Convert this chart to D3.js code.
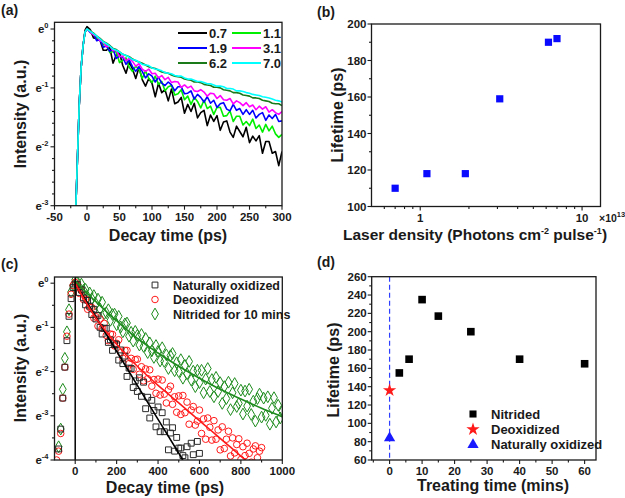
<!DOCTYPE html>
<html><head><meta charset="utf-8">
<script src="https://cdn.jsdelivr.net/npm/d3@7"></script>
<style>body{margin:0;background:#fff}svg{display:block}text{font-family:'Liberation Sans',Arial,sans-serif;font-weight:bold;fill:#1a1a1a}</style>
</head><body>
<svg id="c" width="625" height="498"></svg>
<script>
// ---------- DATA ----------
// (a) decay traces, y values are ln(Intensity)
const tA = [-18,-15,-12,-9,-6,-3,0,5,10,15,20,25,30,35,40,45,50,55,60,65,70,75,80,85,90,95,100,105,110,115,120,125,130,135,140,145,150,155,160,165,170,175,180,185,190,195,200,205,210,215,220,225,230,235,240,245,250,255,260,265,270,275,280,285,290,295,300];
const seriesA = ["0.7","1.1","1.9","3.1","6.2","7.0"];
const colorsA = ["#000000","#00ee00","#0000ff","#ff00ff","#1a7a1a","#00ffff"];
const a07 = [-3.3,-2.3,-1.3,-0.65,-0.28,-0.02,0.04,-0.01,-0.15,-0.16,-0.19,-0.36,-0.36,-0.31,-0.58,-0.44,-0.40,-0.62,-0.75,-0.56,-0.68,-0.84,-0.65,-0.86,-0.97,-0.84,-0.92,-1.15,-0.92,-1.08,-1.03,-1.22,-1.02,-1.27,-1.24,-1.16,-1.43,-1.28,-1.40,-1.26,-1.51,-1.42,-1.38,-1.64,-1.46,-1.57,-1.47,-1.72,-1.58,-1.56,-1.75,-1.84,-1.65,-1.74,-1.83,-1.67,-1.93,-1.82,-1.90,-1.81,-2.11,-1.91,-1.91,-2.11,-2.08,-2.32,-2.08];
const a11 = [-3.3,-2.3,-1.3,-0.65,-0.28,-0.05,0.0,-0.05,-0.08,-0.16,-0.17,-0.27,-0.26,-0.40,-0.38,-0.39,-0.57,-0.53,-0.49,-0.65,-0.72,-0.63,-0.68,-0.84,-0.71,-0.84,-0.91,-0.80,-0.94,-0.89,-1.05,-0.98,-0.96,-1.12,-1.10,-1.03,-1.20,-1.14,-1.28,-1.16,-1.23,-1.34,-1.21,-1.35,-1.31,-1.45,-1.33,-1.33,-1.48,-1.47,-1.39,-1.57,-1.48,-1.48,-1.63,-1.57,-1.64,-1.53,-1.69,-1.63,-1.75,-1.62,-1.73,-1.65,-1.78,-1.84,-1.79];
const a19 = [-3.3,-2.3,-1.3,-0.65,-0.28,-0.05,0.0,-0.06,-0.08,-0.20,-0.18,-0.31,-0.29,-0.38,-0.34,-0.50,-0.46,-0.48,-0.60,-0.53,-0.64,-0.72,-0.64,-0.72,-0.83,-0.76,-0.80,-0.90,-0.82,-0.92,-0.96,-0.90,-0.95,-1.05,-0.98,-0.98,-1.10,-1.09,-1.05,-1.19,-1.11,-1.16,-1.24,-1.15,-1.26,-1.21,-1.33,-1.27,-1.25,-1.36,-1.39,-1.28,-1.38,-1.35,-1.45,-1.37,-1.45,-1.38,-1.51,-1.45,-1.42,-1.55,-1.46,-1.52,-1.45,-1.57,-1.56];
const a31 = [-3.3,-2.3,-1.3,-0.65,-0.28,-0.05,0.0,-0.05,-0.10,-0.12,-0.20,-0.22,-0.30,-0.28,-0.37,-0.36,-0.47,-0.46,-0.54,-0.50,-0.55,-0.63,-0.59,-0.68,-0.72,-0.68,-0.76,-0.75,-0.83,-0.79,-0.86,-0.82,-0.91,-0.89,-0.90,-0.99,-0.95,-1.00,-0.97,-1.05,-1.06,-1.03,-1.07,-1.14,-1.09,-1.10,-1.18,-1.13,-1.20,-1.21,-1.18,-1.27,-1.22,-1.25,-1.30,-1.25,-1.32,-1.29,-1.37,-1.31,-1.36,-1.32,-1.41,-1.37,-1.42,-1.45,-1.40];
const a62 = [-3.3,-2.3,-1.3,-0.65,-0.28,-0.05,0.0,-0.03,-0.07,-0.12,-0.16,-0.21,-0.24,-0.28,-0.33,-0.35,-0.39,-0.43,-0.45,-0.47,-0.51,-0.54,-0.56,-0.58,-0.61,-0.64,-0.66,-0.67,-0.70,-0.73,-0.74,-0.75,-0.78,-0.80,-0.81,-0.82,-0.85,-0.86,-0.87,-0.90,-0.90,-0.91,-0.94,-0.95,-0.96,-0.99,-0.99,-1.00,-1.03,-1.04,-1.05,-1.08,-1.08,-1.09,-1.12,-1.13,-1.14,-1.17,-1.17,-1.18,-1.21,-1.22,-1.23,-1.26,-1.27,-1.27,-1.30];
const a70 = [-3.3,-2.3,-1.3,-0.65,-0.28,-0.05,0.0,-0.04,-0.08,-0.12,-0.17,-0.22,-0.25,-0.29,-0.34,-0.36,-0.39,-0.43,-0.45,-0.48,-0.52,-0.53,-0.56,-0.60,-0.61,-0.62,-0.66,-0.68,-0.69,-0.71,-0.74,-0.75,-0.76,-0.79,-0.80,-0.80,-0.83,-0.85,-0.85,-0.87,-0.89,-0.89,-0.91,-0.93,-0.93,-0.95,-0.97,-0.97,-0.98,-1.01,-1.01,-1.02,-1.05,-1.05,-1.06,-1.08,-1.09,-1.11,-1.12,-1.13,-1.15,-1.16,-1.17,-1.19,-1.21,-1.22,-1.24];
const valuesA = [a07,a11,a19,a31,a62,a70];
const xTicksA = [-50,0,50,100,150,200,250,300];
const yTicksA = [0,-1,-2,-3];

// (b) lifetime vs laser density (x 1e13)
const densB = [0.7,1.1,1.9,3.1,6.2,7.0];
const lifeB = [110,118,118,159,190,192];
const yTicksB = [100,120,140,160,180,200];
const xTicksB = [1,10];

// (c) decay curves, ln(Intensity), time step 10 ps from -90 to 1000
const tC = d3.range(-90,1001,10);
const cNat = [-4.2,-3.75,-3.3,-2.6,-1.9,-1.3,-0.75,-0.35,-0.1,-0.02,
  -0.03,-0.21,-0.15,-0.33,-0.49,-0.39,-0.52,-0.71,-0.59,-0.81,
  -0.73,-1.00,-1.15,-1.02,-1.02,-1.34,-1.28,-1.52,-1.37,-1.39,
  -1.74,-1.51,-1.82,-1.65,-2.11,-1.92,-1.93,-2.36,-2.21,-2.45,
  -2.14,-2.56,-2.24,-2.84,-2.58,-3.05,-2.65,-2.88,-3.25,-2.80,
  -3.36,-2.93,-3.36,-3.14,-3.77,-3.39,-3.27,-3.80,-3.49,-3.73,-3.73,-3.90,
  -3.95,-3.70,-4.10,-3.62,-3.88,-4.20,-3.58,-3.85];
const cDeox = [-4.0,-3.8,-3.4,-2.6,-1.9,-1.2,-0.7,-0.25,-0.05,0.02,
  -0.04,-0.23,-0.17,-0.37,-0.36,-0.59,-0.55,-0.55,-0.79,-0.76,
  -0.97,-0.81,-1.02,-0.91,-1.18,-1.30,-1.15,-1.16,-1.42,-1.36,
  -1.28,-1.57,-1.70,-1.52,-1.52,-1.82,-1.70,-1.95,-1.73,-1.72,
  -2.06,-1.89,-2.21,-1.94,-2.16,-1.96,-2.33,-2.18,-2.49,-2.17,
  -2.53,-2.19,-2.51,-2.71,-2.41,-2.33,-2.74,-2.57,-2.92,-2.55,
  -2.97,-2.54,-2.93,-2.69,-3.19,-2.87,-2.79,-3.21,-3.12,-2.87,
  -3.40,-3.07,-3.53,-3.05,-3.26,-3.55,-3.11,-3.53,-3.32,-3.77,
  -3.25,-3.74,-3.53,-3.35,-3.91,-3.50,-3.84,-3.65,-3.52,-3.99,
  -3.70,-3.90,-3.62,-3.85,-4.05,-3.75,-3.68,-3.95,-3.80,-3.72];
const cNit = [-4.3,-3.7,-3.3,-2.4,-1.7,-1.1,-0.6,-0.2,-0.05,0.08,
  0.03,-0.09,-0.02,-0.16,-0.14,-0.31,-0.22,-0.35,-0.28,-0.47,
  -0.36,-0.58,-0.43,-0.69,-0.67,-0.60,-0.84,-0.71,-0.70,-0.94,
  -0.75,-0.99,-1.10,-0.92,-0.90,-1.20,-1.11,-1.31,-1.09,-1.18,
  -1.40,-1.16,-1.43,-1.25,-1.57,-1.35,-1.53,-1.68,-1.41,-1.54,
  -1.76,-1.46,-1.77,-1.62,-1.93,-1.64,-1.59,-1.98,-1.80,-2.00,
  -1.73,-2.15,-1.86,-2.05,-1.77,-2.19,-1.99,-2.34,-1.97,-2.25,
  -1.97,-2.48,-2.17,-1.93,-2.45,-2.18,-2.57,-2.13,-2.45,-2.25,
  -2.72,-2.34,-2.61,-2.24,-2.86,-2.48,-2.27,-2.79,-2.72,-2.42,
  -2.96,-2.44,-2.78,-2.40,-2.97,-2.67,-3.12,-2.61,-2.51,-3.03,
  -2.60,-2.99,-2.57,-3.19,-2.83,-2.59,-3.14,-2.76,-3.05,-2.90];
// fit curves (time, ln I)
const fitNatT = [0,100,200,300,400,520];
const fitNatY = [0,-0.77,-1.54,-2.31,-3.08,-4.0];
const fitDeoxT = [0,50,100,150,200,250,300,350,400,450,500,550,600,650,700,750,800,830];
const fitDeoxY = [0,-0.42,-0.79,-1.10,-1.38,-1.64,-1.88,-2.10,-2.31,-2.51,-2.71,-2.91,-3.11,-3.31,-3.51,-3.71,-3.91,-4.03];
const fitNitT = [0,100,200,300,400,500,600,700,800,900,1000];
const fitNitY = [0.05,-0.42,-0.85,-1.25,-1.58,-1.88,-2.15,-2.40,-2.62,-2.83,-3.02];
const seriesC = ["Naturally oxidized","Deoxidized","Nitrided for 10 mins"];
const xTicksC = [0,200,400,600,800,1000];
const yTicksC = [0,-1,-2,-3,-4];

// (d) lifetime vs treating time
const timeNit = [3,6,10,15,25,40,60];
const lifeNit = [155,170,235,217,200,170,165];
const timeDeox = [0], lifeDeox = [136];
const timeNat = [0], lifeNat = [84];
const seriesD = ["Nitrided","Deoxidized","Naturally oxidized"];
const xTicksD = [0,10,20,30,40,50,60];
const yTicksD = [60,80,100,120,140,160,180,200,220,240,260];

// ---------- DRAW ----------
const svg = d3.select("#c");
const INK = "#1a1a1a";

function frame(x0,y0,x1,y1){
  svg.append("rect").attr("x",x0).attr("y",y0).attr("width",x1-x0).attr("height",y1-y0)
    .attr("fill","none").attr("stroke",INK).attr("stroke-width",1.3);
}
function xTicks(scale,y,vals,len){
  svg.append("g").selectAll("line").data(vals).join("line")
    .attr("x1",d=>scale(d)).attr("x2",d=>scale(d)).attr("y1",y).attr("y2",y+len)
    .attr("stroke",INK).attr("stroke-width",1.1);
}
function yTicks(scale,x,vals,len){
  svg.append("g").selectAll("line").data(vals).join("line")
    .attr("y1",d=>scale(d)).attr("y2",d=>scale(d)).attr("x1",x).attr("x2",x-len)
    .attr("stroke",INK).attr("stroke-width",1.1);
}
function xLabels(scale,y,vals,fmt,size){
  svg.append("g").selectAll("text").data(vals).join("text")
    .attr("x",d=>scale(d)).attr("y",y).attr("text-anchor","middle").attr("font-size",size||11.5).text(fmt||(d=>d));
}
function yLabels(scale,x,vals,size){
  svg.append("g").selectAll("text").data(vals).join("text")
    .attr("x",x).attr("y",d=>scale(d)+4).attr("text-anchor","end").attr("font-size",size||11.5).text(d=>d);
}
function eLabels(scale,x,vals){
  const g = svg.append("g");
  vals.forEach(v=>{
    const t = g.append("text").attr("x",x).attr("y",scale(v)+4).attr("text-anchor","end").attr("font-size",11.5);
    t.append("tspan").text("e");
    t.append("tspan").attr("dy",-5).attr("font-size",7.5).text(v===0?"0":String(v));
  });
}
function title(x,y,txt,size,rot){
  const t = svg.append("text").attr("text-anchor","middle").attr("font-size",size);
  if(rot) t.attr("transform",`translate(${x},${y}) rotate(-90)`); else t.attr("x",x).attr("y",y);
  t.text(txt); return t;
}
function clip(id,x0,y0,x1,y1){
  svg.append("clipPath").attr("id",id).append("rect").attr("x",x0).attr("y",y0).attr("width",x1-x0).attr("height",y1-y0);
}

// ===== (a) =====
const A = {x0:54.5,x1:282,y0:22.3,y1:205.7};
const xA = d3.scaleLinear().domain([-50,300]).range([A.x0,A.x1]);
const yA = d3.scaleLinear().domain([-3,0.114]).range([A.y1,A.y0]);
clip("clipA",A.x0,A.y0,A.x1,A.y1);
const lineA = d3.line().x((d,i)=>xA(tA[i])).y(d=>yA(d));
const gA = svg.append("g").attr("clip-path","url(#clipA)");
[0,1,2,3,4,5].forEach(k=>{
  gA.append("path").attr("d",lineA(valuesA[k])).attr("fill","none").attr("stroke",colorsA[k]).attr("stroke-width",1.6).attr("stroke-linejoin","round");
});
frame(A.x0,A.y0,A.x1,A.y1);
xTicks(xA,A.y1,xTicksA,4); xTicks(xA,A.y1,d3.range(-25,300,50),2.5);
yTicks(yA,A.x0,yTicksA,4); yTicks(yA,A.x0,[-0.2,-0.4,-0.6,-0.8,-1.2,-1.4,-1.6,-1.8,-2.2,-2.4,-2.6,-2.8],2.5);
xLabels(xA,A.y1+15,xTicksA);
eLabels(yA,A.x0-6,yTicksA);
title(168,241,"Decay time (ps)",16);
title(26,114,"Intensity (a.u.)",16,true);
svg.append("text").attr("x",1).attr("y",15).attr("font-size",14).text("(a)");
const legA = [[0,0],[1,1],[2,0],[3,1],[4,0],[5,1]];
legA.forEach(([k,col],i)=>{
  const row = Math.floor(i/2);
  const lx = col===0?178:232, ly = 33 + row*15;
  svg.append("line").attr("x1",lx).attr("x2",lx+29).attr("y1",ly).attr("y2",ly).attr("stroke",colorsA[k]).attr("stroke-width",2);
  svg.append("text").attr("x",lx+31).attr("y",ly+4.5).attr("font-size",13).text(seriesA[k]);
});

// ===== (b) =====
const B = {x0:371.5,x1:600.5,y0:24,y1:206.5};
const xB = d3.scaleLog().domain([0.5,13]).range([B.x0,B.x1]);
const yB = d3.scaleLinear().domain([100,200]).range([B.y1,B.y0]);
frame(B.x0,B.y0,B.x1,B.y1);
xTicks(xB,B.y1,xTicksB,4); xTicks(xB,B.y1,[0.6,0.7,0.8,0.9,2,3,4,5,6,7,8,9],2.5);
yTicks(yB,B.x0,yTicksB,4); yTicks(yB,B.x0,[110,130,150,170,190],2.5);
xLabels(xB,B.y1+15,xTicksB);
yLabels(yB,B.x0-5,yTicksB);
const xb = svg.append("text").attr("x",599).attr("y",B.y1+15).attr("font-size",10.5);
xb.append("tspan").text("\u00d710"); xb.append("tspan").attr("dy",-5).attr("font-size",7.5).text("13");
svg.append("g").selectAll("rect").data(densB).join("rect")
  .attr("x",(d,i)=>xB(d)-3.6).attr("y",(d,i)=>yB(lifeB[i])-3.6).attr("width",7.2).attr("height",7.2).attr("fill","#0a0aff");
const tb = svg.append("text").attr("x",475).attr("y",240).attr("text-anchor","middle").attr("font-size",15.5);
tb.append("tspan").text("Laser density (Photons cm");
tb.append("tspan").attr("dy",-6).attr("font-size",9).text("-2");
tb.append("tspan").attr("dy",6).text(" pulse");
tb.append("tspan").attr("dy",-6).attr("font-size",9).text("-1");
tb.append("tspan").attr("dy",6).text(")");
title(343,115,"Lifetime (ps)",16,true);
svg.append("text").attr("x",317).attr("y",17).attr("font-size",14).text("(b)");

// ===== (c) =====
const C = {x0:54.5,x1:282.3,y0:277,y1:460};
const xC = d3.scaleLinear().domain([-100,1000]).range([C.x0,C.x1]);
const yC = d3.scaleLinear().domain([-4,0.14]).range([C.y1,C.y0]);
clip("clipC",C.x0,C.y0,C.x1,C.y1);
const gC = svg.append("g").attr("clip-path","url(#clipC)");
const colC = ["#2a2a2a","#ff1a1a","#1e8c1e"];
const dataC = [cNat,cDeox,cNit];
const sym = [d3.symbolSquare,d3.symbolCircle,d3.symbolDiamond];
const symSize = [34,34,40];
[2,1,0].forEach(k=>{
  const pts = tC.map((t,i)=>[t,dataC[k][i]]).filter(p=>p[1]!==undefined && p[1]!==null);
  gC.append("g").selectAll("path").data(pts).join("path")
    .attr("transform",p=>`translate(${xC(p[0])},${yC(p[1])})`)
    .attr("d",d3.symbol(sym[k],symSize[k])).attr("fill","none").attr("stroke",colC[k]).attr("stroke-width",1);
});
const fitsC = [[fitNatT,fitNatY],[fitDeoxT,fitDeoxY],[fitNitT,fitNitY]];
fitsC.forEach(([T,Y],k)=>{
  gC.append("path").attr("d",d3.line().x((d,i)=>xC(T[i])).y(d=>yC(d)).curve(d3.curveMonotoneX)(Y))
    .attr("fill","none").attr("stroke",k===0?"#000":colC[k]).attr("stroke-width",1.6);
});
svg.append("line").attr("x1",xC(0)).attr("x2",xC(0)).attr("y1",C.y0).attr("y2",C.y1).attr("stroke","#000").attr("stroke-width",1.5);
frame(C.x0,C.y0,C.x1,C.y1);
xTicks(xC,C.y1,xTicksC,4); xTicks(xC,C.y1,[100,300,500,700,900],2.5);
yTicks(yC,C.x0,yTicksC,4); yTicks(yC,C.x0,[-0.5,-1.5,-2.5,-3.5],2.5);
xLabels(xC,C.y1+15,xTicksC);
eLabels(yC,C.x0-6,yTicksC);
title(165,493,"Decay time (ps)",16);
title(26,368,"Intensity (a.u.)",16,true);
svg.append("text").attr("x",1).attr("y",269).attr("font-size",14).text("(c)");
seriesC.forEach((s,k)=>{
  const ly = 285 + k*14.5;
  svg.append("path").attr("transform",`translate(155,${ly})`).attr("d",d3.symbol(sym[k],symSize[k])).attr("fill","none").attr("stroke",colC[k]).attr("stroke-width",1);
  svg.append("text").attr("x",173).attr("y",ly+4.5).attr("font-size",12.5).text(s);
});

// ===== (d) =====
const D = {x0:371.7,x1:596,y0:276.7,y1:460};
const xD = d3.scaleLinear().domain([-5.5,63.5]).range([D.x0,D.x1]);
const yD = d3.scaleLinear().domain([60,260]).range([D.y1,D.y0]);
svg.append("line").attr("x1",xD(0)).attr("x2",xD(0)).attr("y1",D.y0).attr("y2",D.y1)
  .attr("stroke","#2f3fff").attr("stroke-width",1.2).attr("stroke-dasharray","5,3");
frame(D.x0,D.y0,D.x1,D.y1);
xTicks(xD,D.y1,xTicksD,4); xTicks(xD,D.y1,[-5,5,15,25,35,45,55],2.5);
yTicks(yD,D.x0,yTicksD,4); yTicks(yD,D.x0,d3.range(70,260,20),2.5);
xLabels(xD,D.y1+15,xTicksD);
yLabels(yD,D.x0-5,yTicksD);
svg.append("g").selectAll("rect").data(timeNit).join("rect")
  .attr("x",d=>xD(d)-3.8).attr("y",(d,i)=>yD(lifeNit[i])-3.8).attr("width",7.6).attr("height",7.6).attr("fill","#000");
svg.append("g").selectAll("path.s").data(timeDeox).join("path")
  .attr("transform",(d,i)=>`translate(${xD(d)},${yD(lifeDeox[i])})`).attr("d",d3.symbol(d3.symbolStar,55)).attr("fill","#ff1a1a");
svg.append("g").selectAll("path.t").data(timeNat).join("path")
  .attr("transform",(d,i)=>`translate(${xD(d)},${yD(lifeNat[i])})`).attr("d",d3.symbol(d3.symbolTriangle,55)).attr("fill","#1a1aff");
const legD = [[d3.symbolSquare,"#000",50],[d3.symbolStar,"#ff1a1a",55],[d3.symbolTriangle,"#1a1aff",55]];
seriesD.forEach((s,k)=>{
  const ly = 414 + k*15.4;
  svg.append("path").attr("transform",`translate(473,${ly})`).attr("d",d3.symbol(legD[k][0],legD[k][2])).attr("fill",legD[k][1]);
  svg.append("text").attr("x",491).attr("y",ly+4.5).attr("font-size",13).text(s);
});
title(493,491,"Treating time (mins)",16);
title(339,370,"Lifetime (ps)",16,true);
svg.append("text").attr("x",317).attr("y",267).attr("font-size",14).text("(d)");
</script>
</body></html>
